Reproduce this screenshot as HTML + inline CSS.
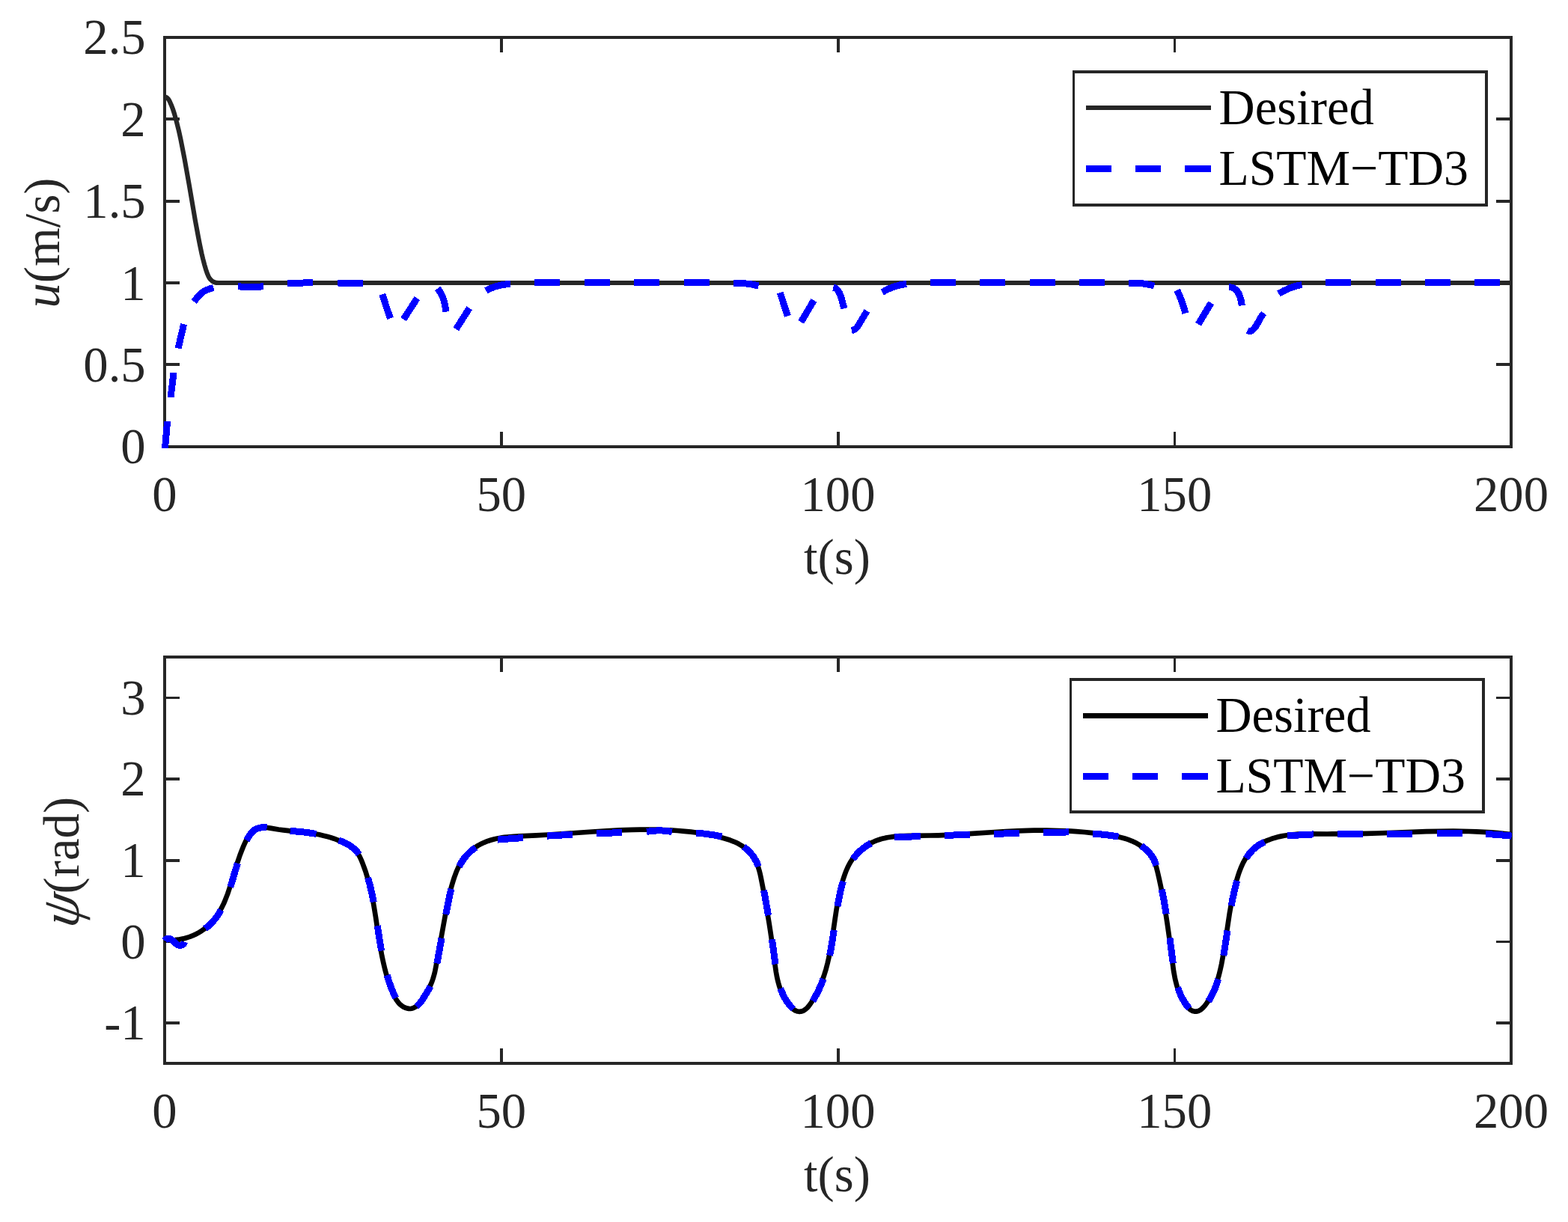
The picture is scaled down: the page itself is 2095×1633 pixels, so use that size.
<!DOCTYPE html>
<html lang="en">
<head>
<meta charset="utf-8">
<title>Speed and heading tracking: Desired vs LSTM-TD3</title>
<style>
html,body{margin:0;padding:0;background:#fff;}
body{width:2095px;height:1633px;overflow:hidden;}
svg{display:block;}
text{white-space:pre;}
</style>
</head>
<body>
<svg width="2095" height="1633" viewBox="0 0 2095 1633" role="img" aria-label="Surge speed u and heading angle psi versus time: desired reference and LSTM-TD3 tracking">
<rect width="2095" height="1633" fill="#fff"/>
<defs>
<clipPath id="c1"><rect x="215" y="46" width="1808" height="553"/></clipPath>
<clipPath id="c2"><rect x="215" y="874" width="1806" height="549"/></clipPath>
</defs>
<g id="ax1" fill="#262626" shape-rendering="crispEdges">
<rect x="218" y="48" width="1803" height="4"/>
<rect x="218" y="595" width="1803" height="4"/>
<rect x="218" y="48" width="4" height="551"/>
<rect x="2017" y="48" width="4" height="551"/>
<rect x="668" y="577" width="4" height="20"/>
<rect x="668" y="50" width="4" height="20"/>
<rect x="1118" y="577" width="4" height="20"/>
<rect x="1118" y="50" width="4" height="20"/>
<rect x="1568" y="577" width="3" height="20"/>
<rect x="1568" y="50" width="3" height="20"/>
<rect x="220" y="485" width="20" height="4"/>
<rect x="1999" y="485" width="20" height="4"/>
<rect x="220" y="376" width="20" height="4"/>
<rect x="1999" y="376" width="20" height="4"/>
<rect x="220" y="267" width="20" height="4"/>
<rect x="1999" y="267" width="20" height="4"/>
<rect x="220" y="157" width="20" height="4"/>
<rect x="1999" y="157" width="20" height="4"/>
</g>
<g id="ax2" fill="#262626" shape-rendering="crispEdges">
<rect x="218" y="876" width="1803" height="4"/>
<rect x="218" y="1419" width="1803" height="4"/>
<rect x="218" y="876" width="4" height="547"/>
<rect x="2017" y="876" width="4" height="547"/>
<rect x="668" y="1401" width="4" height="20"/>
<rect x="668" y="878" width="4" height="20"/>
<rect x="1118" y="1401" width="4" height="20"/>
<rect x="1118" y="878" width="4" height="20"/>
<rect x="1568" y="1401" width="3" height="20"/>
<rect x="1568" y="878" width="3" height="20"/>
<rect x="220" y="1365" width="20" height="4"/>
<rect x="1999" y="1365" width="20" height="4"/>
<rect x="220" y="1257" width="20" height="3"/>
<rect x="1999" y="1257" width="20" height="3"/>
<rect x="220" y="1148" width="20" height="4"/>
<rect x="1999" y="1148" width="20" height="4"/>
<rect x="220" y="1039" width="20" height="4"/>
<rect x="1999" y="1039" width="20" height="4"/>
<rect x="220" y="931" width="20" height="3"/>
<rect x="1999" y="931" width="20" height="3"/>
</g>
<g font-family='"Liberation Serif", "DejaVu Serif", serif' font-size="66.67px">
<text x="194.70" y="619.40" text-anchor="end" fill="#262626">0</text>
<text x="194.70" y="510.00" text-anchor="end" fill="#262626">0.5</text>
<text x="194.70" y="400.60" text-anchor="end" fill="#262626">1</text>
<text x="194.70" y="291.20" text-anchor="end" fill="#262626">1.5</text>
<text x="194.70" y="181.80" text-anchor="end" fill="#262626">2</text>
<text x="194.70" y="72.40" text-anchor="end" fill="#262626">2.5</text>
<text x="194.70" y="1389.10" text-anchor="end" fill="#262626">-1</text>
<text x="194.70" y="1280.50" text-anchor="end" fill="#262626">0</text>
<text x="194.70" y="1171.90" text-anchor="end" fill="#262626">1</text>
<text x="194.70" y="1063.30" text-anchor="end" fill="#262626">2</text>
<text x="194.70" y="954.70" text-anchor="end" fill="#262626">3</text>
<text x="220.00" y="682.80" text-anchor="middle" fill="#262626">0</text>
<text x="669.75" y="682.80" text-anchor="middle" fill="#262626">50</text>
<text x="1119.50" y="682.80" text-anchor="middle" fill="#262626">100</text>
<text x="1569.25" y="682.80" text-anchor="middle" fill="#262626">150</text>
<text x="2019.00" y="682.80" text-anchor="middle" fill="#262626">200</text>
<text x="220.00" y="1507.00" text-anchor="middle" fill="#262626">0</text>
<text x="669.75" y="1507.00" text-anchor="middle" fill="#262626">50</text>
<text x="1119.50" y="1507.00" text-anchor="middle" fill="#262626">100</text>
<text x="1569.25" y="1507.00" text-anchor="middle" fill="#262626">150</text>
<text x="2019.00" y="1507.00" text-anchor="middle" fill="#262626">200</text>
<text x="1118.50" y="766.80" text-anchor="middle" fill="#262626">t(s)</text>
<text x="1118.50" y="1591.90" text-anchor="middle" fill="#262626">t(s)</text>
<text transform="translate(79.00 324.50) rotate(-90)" text-anchor="middle" fill="#262626"><tspan font-style="italic">u</tspan>(m/s)</text>
<text transform="translate(104.90 1241.64) rotate(-90) skewX(-10)" font-style="italic" font-size="72px" fill="#262626">ψ</text>
<text transform="translate(104.90 1194.42) rotate(-90)" fill="#262626">(rad)</text>
</g>
<g clip-path="url(#c1)" fill="none" stroke-linejoin="round">
<path d="M220.0 129.4L221.5 129.8L222.8 130.4L224.0 131.4L225.0 132.6L225.8 133.8L226.5 135.1L228.8 140.2L230.8 145.3L233.1 152.5L236.0 163.1L238.6 173.4L240.0 179.7L241.5 186.6L244.5 201.8L246.6 212.7L252.6 246.2L260.8 294.2L265.0 316.9L267.0 327.2L269.6 339.5L271.1 345.8L273.3 354.1L275.0 359.9L276.9 365.6L278.3 368.8L279.0 370.2L279.7 371.4L280.6 372.7L281.6 373.8L282.7 374.8L283.9 375.8L285.2 376.6L286.1 377.0L287.5 377.5L289.0 377.9L292.0 378.0L2019.0 378.0" stroke="#262626" stroke-width="6.2"/>
<path d="M220.4 600.0L223.6 563.0M228.0 531.0L232.1 498.0M238.1 465.6L245.6 433.2M259.2 403.1L262.9 398.2L265.3 395.4L267.8 392.9L270.2 390.9L271.5 390.0L273.2 389.0L276.5 387.4L280.4 385.9L285.3 384.5M318.0 382.8L326.6 383.3L335.3 383.5L343.9 383.3L352.0 382.8M384.0 379.0L418.0 377.4M451.0 378.0L485.0 378.4M510.9 393.3L516.0 409.5L521.5 425.5M539.1 426.7L557.3 398.6M584.7 385.6L586.9 388.5L588.8 391.5L590.5 394.7L592.0 398.5L593.3 402.5L594.3 406.5L595.2 411.0L596.0 416.6M609.3 439.8L627.2 411.7M649.4 388.3L653.5 386.2L657.3 384.6L661.1 383.2L665.5 381.9L669.9 380.9L673.9 380.2L678.0 379.7L682.1 379.5M980.0 378.4L984.6 378.3L988.7 378.4L992.8 378.6L996.8 379.0L1000.9 379.5L1004.9 380.1L1009.0 381.0L1013.5 382.1M1042.3 391.1L1047.3 406.8L1052.5 422.4M1070.2 430.4L1087.4 401.4M1113.2 384.3L1114.3 384.5L1115.3 384.8L1116.2 385.2L1117.5 386.0L1118.6 387.0L1119.6 388.2L1120.4 389.5L1121.2 390.9L1122.1 392.8L1122.9 394.7L1124.2 398.5L1125.2 402.0L1127.9 412.4M1137.9 441.7L1139.0 441.5L1140.0 441.2L1140.9 440.8L1141.8 440.3L1143.4 439.1L1145.1 437.3L1146.0 436.0L1147.1 434.3L1150.3 429.0L1155.8 419.9L1158.4 415.5M1178.8 390.6L1182.8 388.3L1186.5 386.4L1190.7 384.6L1194.5 383.1L1198.9 381.8L1202.9 380.8L1207.0 380.1L1211.1 379.5M1508.0 378.4L1512.1 378.2L1516.2 378.2L1520.8 378.4L1524.9 378.7L1529.5 379.3L1533.5 380.0L1538.1 381.0L1542.1 382.1M1572.7 387.6L1576.0 395.2L1579.0 402.8L1581.6 410.7L1583.9 418.6M1601.0 433.4L1618.1 404.8M1642.0 384.0L1643.6 383.8L1645.1 384.0L1646.6 384.3L1648.0 385.0L1649.4 385.8L1651.0 387.1L1652.1 388.2L1653.4 389.8L1654.5 391.5L1655.5 393.4L1656.3 395.3L1657.0 397.2L1657.5 399.2L1658.2 401.7L1659.4 408.3M1666.9 441.6L1667.9 442.1L1668.9 442.4L1669.9 442.4L1670.9 442.3L1671.8 442.0L1673.1 441.2L1674.0 440.6L1675.1 439.5L1676.9 437.5L1678.6 435.0L1679.8 432.8L1683.4 426.1L1685.3 423.0L1687.0 420.5L1688.7 418.6M1708.4 392.6L1712.4 390.2L1715.9 388.3L1719.6 386.6L1723.3 385.0L1727.2 383.6L1731.0 382.4L1735.0 381.4L1739.5 380.5M714.0 377.5L748.0 377.5M780.5 377.5L814.5 377.5M847.0 377.5L881.0 377.5M913.5 377.5L947.5 377.5M1243.0 377.5L1277.0 377.5M1309.2 377.5L1343.2 377.5M1375.5 377.5L1409.5 377.5M1441.8 377.5L1475.8 377.5M1771.0 377.5L1805.0 377.5M1838.0 377.5L1872.0 377.5M1904.0 377.5L1938.0 377.5M1970.0 377.5L2004.0 377.5" stroke="#0000ff" stroke-width="9" shape-rendering="crispEdges"/>
</g>
<g clip-path="url(#c2)" fill="none" stroke-linejoin="round">
<path d="M219.8 1255.9L224.5 1256.3L229.1 1256.3L233.6 1256.1L238.2 1255.7L242.6 1254.9L245.1 1254.4L247.5 1253.7L251.8 1252.4L254.2 1251.6L256.5 1250.7L260.6 1248.9L262.8 1247.8L265.0 1246.6L267.1 1245.4L269.2 1244.0L272.8 1241.5L274.8 1240.0L276.7 1238.4L280.0 1235.5L283.1 1232.3L286.0 1229.0L288.1 1226.3L290.4 1223.1L292.2 1220.2L294.2 1216.7L296.1 1213.2L297.9 1209.6L299.6 1206.0L301.3 1201.8L304.1 1194.6L306.8 1186.5L309.1 1179.2L315.0 1159.5L316.9 1153.6L318.6 1148.6L320.5 1143.0L322.6 1137.5L324.7 1132.2L326.8 1127.4L328.4 1124.0L330.1 1120.7L331.7 1118.0L333.4 1115.4L334.9 1113.5L336.5 1111.7L338.2 1110.1L340.1 1108.7L341.6 1107.8L343.3 1107.1L345.0 1106.6L347.2 1106.1L349.1 1105.9L351.5 1105.8L353.9 1105.8L356.5 1106.0L361.1 1106.6L372.1 1108.5L378.8 1109.4L385.7 1110.2L403.7 1111.8L409.1 1112.4L414.0 1113.1L420.3 1114.2L426.3 1115.3L432.1 1116.7L437.5 1118.1L441.9 1119.3L446.3 1120.7L450.6 1122.3L454.4 1123.7L457.7 1125.1L460.9 1126.6L464.0 1128.3L466.5 1129.8L469.0 1131.5L471.3 1133.2L473.5 1135.2L475.2 1136.9L476.8 1138.7L478.2 1140.7L479.5 1142.8L480.9 1145.4L482.6 1149.1L484.9 1154.8L486.8 1160.0L488.8 1165.7L490.4 1171.0L492.1 1176.8L493.6 1182.6L495.2 1188.9L496.3 1194.2L497.5 1200.1L498.8 1206.5L499.9 1212.9L502.0 1225.7L505.5 1249.4L507.0 1258.8L508.6 1268.1L510.2 1277.0L512.3 1286.7L514.5 1296.0L515.7 1300.3L516.9 1304.6L518.2 1308.9L519.5 1312.8L521.2 1317.5L523.0 1322.3L524.9 1327.0L526.6 1330.7L528.0 1333.4L529.5 1336.0L531.2 1338.4L532.7 1340.3L533.7 1341.4L534.8 1342.4L536.7 1344.0L538.8 1345.4L541.1 1346.5L543.4 1347.3L544.9 1347.7L545.8 1347.8L547.2 1348.0L548.1 1348.0L549.9 1347.7L551.6 1347.3L553.3 1346.5L554.9 1345.6L556.4 1344.5L557.9 1343.2L559.3 1341.7L561.0 1339.7L562.6 1337.6L564.8 1334.5L567.1 1330.8L570.8 1324.7L573.2 1320.4L574.7 1317.5L576.1 1314.4L577.2 1311.8L578.3 1308.5L579.3 1305.2L580.4 1301.4L581.3 1297.4L582.3 1292.4L584.7 1279.4L595.1 1222.0L597.4 1210.2L599.3 1201.0L601.7 1190.7L602.9 1185.9L604.3 1181.0L605.6 1176.7L607.0 1172.4L608.4 1168.6L609.6 1165.3L610.8 1162.5L612.0 1159.8L613.4 1157.1L614.8 1154.5L616.3 1151.9L617.7 1149.8L619.4 1147.3L620.9 1145.4L622.5 1143.4L624.2 1141.6L626.0 1139.8L628.2 1137.7L630.1 1136.1L632.5 1134.2L634.5 1132.7L637.0 1131.0L639.2 1129.7L641.7 1128.3L644.4 1127.0L647.0 1125.8L649.8 1124.7L652.5 1123.7L655.3 1122.8L658.1 1122.0L660.9 1121.2L664.3 1120.5L667.2 1120.0L670.6 1119.4L674.1 1118.9L678.0 1118.5L686.1 1117.8L694.2 1117.3L716.5 1116.3L732.2 1115.5L750.3 1114.3L791.3 1111.5L810.7 1110.3L828.1 1109.4L844.0 1108.9L855.0 1108.7L865.4 1108.6L875.9 1108.7L885.9 1109.0L895.4 1109.4L904.9 1110.0L914.4 1110.8L923.0 1111.6L931.5 1112.7L939.4 1113.9L947.4 1115.3L954.7 1116.9L962.0 1118.7L969.1 1120.7L975.7 1122.8L980.8 1124.8L984.9 1126.6L987.1 1127.8L988.8 1128.8L990.5 1129.8L992.6 1131.3L994.6 1132.8L996.2 1134.0L998.1 1135.7L999.5 1137.1L1001.3 1138.9L1002.6 1140.4L1004.3 1142.3L1005.5 1143.9L1007.7 1147.3L1009.2 1149.8L1010.7 1152.9L1012.1 1156.1L1013.2 1159.4L1014.4 1163.2L1015.4 1167.1L1016.4 1171.5L1017.6 1177.5L1020.3 1191.3L1022.8 1205.0L1025.1 1218.8L1027.5 1233.0L1029.4 1245.3L1031.2 1257.6L1033.0 1271.0L1035.6 1290.0L1036.9 1299.0L1037.8 1304.0L1038.8 1308.9L1039.9 1313.2L1041.0 1317.1L1042.2 1320.8L1043.6 1324.6L1045.2 1328.2L1046.7 1331.4L1048.6 1334.9L1050.5 1337.9L1052.6 1340.8L1054.8 1343.7L1056.5 1345.6L1058.3 1347.5L1060.3 1349.0L1062.0 1350.1L1063.7 1350.9L1065.5 1351.5L1067.4 1351.8L1068.3 1351.8L1069.7 1351.7L1071.4 1351.4L1072.2 1351.1L1073.5 1350.6L1075.0 1349.7L1076.8 1348.3L1078.6 1346.7L1080.5 1344.5L1082.4 1342.0L1084.4 1339.0L1086.9 1335.0L1089.4 1330.5L1091.6 1326.4L1093.8 1321.9L1095.8 1317.3L1097.9 1312.2L1099.6 1307.5L1101.4 1302.3L1103.6 1295.2L1105.6 1287.5L1107.5 1279.3L1109.2 1270.5L1110.6 1262.6L1111.9 1254.3L1115.9 1226.5L1117.5 1216.1L1119.2 1206.2L1121.0 1197.3L1123.1 1188.0L1125.2 1179.7L1126.3 1175.8L1127.6 1171.9L1128.9 1168.1L1130.1 1164.8L1131.3 1162.0L1132.5 1159.3L1133.8 1156.6L1135.2 1154.0L1136.7 1151.4L1138.1 1149.3L1139.5 1147.2L1141.0 1145.3L1142.6 1143.3L1144.6 1141.1L1146.3 1139.3L1148.5 1137.2L1150.3 1135.5L1152.6 1133.6L1155.0 1131.9L1157.5 1130.2L1159.5 1128.9L1161.7 1127.6L1163.8 1126.5L1166.4 1125.2L1168.7 1124.2L1171.4 1123.2L1174.1 1122.2L1176.9 1121.3L1179.7 1120.6L1182.6 1119.9L1185.4 1119.3L1188.8 1118.7L1195.2 1117.9L1202.2 1117.2L1207.3 1117.0L1213.4 1116.8L1243.2 1116.5L1253.8 1116.3L1264.9 1115.9L1276.0 1115.3L1288.0 1114.7L1328.7 1112.0L1344.0 1111.1L1359.4 1110.4L1373.3 1109.9L1381.8 1109.7L1389.8 1109.6L1398.3 1109.7L1406.3 1109.8L1414.4 1110.0L1422.4 1110.3L1430.4 1110.7L1437.9 1111.2L1449.0 1112.0L1459.5 1113.1L1470.0 1114.3L1480.4 1115.8L1487.8 1117.0L1494.2 1118.3L1500.0 1119.7L1502.9 1120.5L1505.7 1121.4L1508.5 1122.4L1510.8 1123.3L1513.6 1124.4L1515.8 1125.5L1518.5 1126.8L1520.7 1128.1L1522.8 1129.4L1524.9 1130.8L1526.9 1132.3L1528.9 1133.8L1530.8 1135.4L1532.6 1137.2L1534.4 1139.0L1536.0 1140.8L1537.5 1142.8L1538.6 1144.4L1540.4 1147.4L1541.3 1149.1L1542.2 1150.9L1543.6 1154.6L1545.0 1158.9L1546.4 1164.3L1548.6 1173.7L1550.7 1183.5L1552.7 1193.3L1554.5 1203.2L1556.3 1213.4L1558.0 1223.8L1559.7 1235.1L1562.6 1255.3L1566.9 1288.7L1568.1 1297.7L1569.1 1303.1L1570.0 1308.0L1571.1 1312.4L1572.2 1316.8L1573.4 1320.6L1574.7 1324.3L1576.2 1328.0L1577.6 1331.2L1579.2 1334.4L1580.9 1337.4L1582.8 1340.5L1584.9 1343.4L1586.5 1345.4L1588.2 1347.3L1589.6 1348.7L1591.2 1349.8L1592.8 1350.7L1594.6 1351.3L1596.4 1351.6L1598.2 1351.6L1599.9 1351.4L1601.6 1350.8L1603.2 1350.0L1605.1 1348.7L1606.9 1347.1L1608.6 1345.3L1610.6 1342.9L1612.4 1340.3L1614.7 1336.8L1616.8 1333.1L1618.8 1329.5L1620.6 1325.8L1622.2 1322.1L1623.9 1317.9L1625.4 1313.7L1626.8 1309.4L1628.6 1303.2L1630.4 1295.9L1632.1 1288.2L1633.7 1279.4L1635.1 1271.6L1636.5 1262.7L1641.0 1232.6L1642.7 1221.2L1644.7 1209.8L1646.6 1200.0L1647.7 1194.6L1649.0 1189.2L1650.3 1183.8L1651.6 1178.9L1653.0 1174.0L1654.3 1169.7L1655.6 1165.8L1657.0 1162.1L1658.3 1158.8L1659.5 1156.1L1661.0 1152.9L1662.4 1150.3L1663.9 1147.8L1665.4 1145.3L1667.1 1142.9L1668.6 1141.0L1670.5 1138.7L1672.1 1136.9L1674.2 1134.9L1676.1 1133.2L1678.0 1131.7L1680.0 1130.2L1682.2 1128.8L1684.8 1127.2L1687.5 1125.8L1690.3 1124.4L1693.1 1123.2L1696.0 1122.1L1698.8 1121.0L1702.2 1119.9L1705.5 1119.0L1708.9 1118.1L1712.3 1117.4L1715.7 1116.7L1719.2 1116.2L1722.6 1115.7L1726.1 1115.3L1730.0 1115.0L1734.0 1114.7L1738.5 1114.5L1744.0 1114.4L1750.5 1114.3L1773.1 1114.5L1787.6 1114.4L1800.2 1114.3L1812.7 1114.1L1826.1 1113.8L1839.6 1113.5L1887.1 1111.8L1905.7 1111.2L1924.7 1110.8L1941.6 1110.7L1952.1 1110.8L1962.6 1111.0L1972.6 1111.3L1982.6 1111.8L1992.1 1112.4L2001.1 1113.2L2010.0 1114.1L2019.0 1115.1" stroke="#000" stroke-width="6.7"/>
<path d="M220.0 1256.9L220.4 1256.4L221.2 1255.6L222.0 1255.0L223.0 1254.6L223.9 1254.4L224.9 1254.3L226.0 1254.4L227.0 1254.6L228.4 1255.2L229.3 1255.8L230.2 1256.4L231.3 1257.4L234.2 1260.3L235.8 1261.6L237.1 1262.4L238.1 1262.8L239.1 1263.1L240.1 1263.3L241.7 1263.3L242.6 1263.1L243.6 1262.7L244.4 1262.2L245.2 1261.5L245.9 1260.6L246.5 1259.4L246.7 1258.8M274.2 1240.9L277.7 1238.1L280.6 1235.5L283.3 1232.7L285.9 1229.8L288.4 1226.7L291.0 1223.1L293.1 1219.7L295.3 1215.9M307.7 1185.5L310.0 1178.3L314.9 1161.8L317.5 1153.6M329.5 1123.0L331.0 1120.2L332.3 1118.0L333.7 1115.8L334.9 1114.2L336.5 1112.4L337.8 1111.0L339.2 1109.8L340.7 1108.7L342.2 1107.8L343.9 1107.1L345.6 1106.6L347.4 1106.2L349.2 1105.9L351.6 1105.8L354.0 1105.8L356.6 1106.0M387.8 1110.3L400.9 1111.5L407.7 1112.2L415.0 1113.2L422.4 1114.4M452.6 1122.8L457.4 1124.7L461.9 1126.9L465.9 1129.0L469.2 1131.2L472.3 1133.6L475.1 1136.2L476.4 1137.6L477.7 1139.1L479.6 1141.9M491.6 1172.9L493.7 1180.6L495.6 1188.4L497.5 1196.7L499.2 1205.5M504.3 1237.1L507.3 1256.8L509.6 1270.6M517.1 1303.2L519.8 1311.8L522.7 1319.9L524.4 1324.1L526.2 1328.4L527.4 1331.1L528.8 1333.8M556.3 1345.1L558.1 1343.5L559.9 1341.7L561.9 1339.3L563.8 1336.7L566.5 1332.6L570.9 1325.5L573.3 1321.3L575.1 1317.9M583.9 1287.4L590.0 1253.7M595.7 1222.0L597.8 1211.2L599.5 1202.9L601.2 1195.1L603.0 1187.8M613.5 1158.0L615.6 1154.0L618.0 1150.2L620.3 1146.9L622.8 1143.8L625.5 1140.9L628.8 1137.7L631.9 1135.1L635.6 1132.4M665.0 1122.1L699.0 1119.5M731.0 1117.1L765.1 1115.2M797.4 1113.5L831.4 1112.7M864.0 1111.5L868.5 1110.8L873.1 1110.3L877.1 1110.0L881.2 1109.9L884.8 1110.0L888.8 1110.3L893.4 1110.8L897.9 1111.5M929.9 1113.0L938.5 1113.8L947.6 1115.0L956.1 1116.3L964.6 1117.9M993.6 1131.6L997.1 1134.4L1000.1 1137.1L1003.2 1140.4L1005.8 1143.5L1008.0 1146.8L1010.0 1150.3L1011.7 1153.9L1013.3 1158.0M1020.6 1189.8L1023.6 1206.5L1026.5 1223.2M1031.4 1255.2L1033.5 1270.0L1035.9 1288.5M1042.8 1320.8L1044.4 1325.0L1046.2 1329.1L1048.2 1333.1L1050.3 1336.6L1052.8 1340.4L1055.4 1343.7L1057.8 1346.4L1060.1 1348.4M1085.9 1337.7L1088.0 1334.1L1090.0 1330.5L1091.9 1326.9L1093.7 1323.3L1095.4 1319.6L1097.0 1315.9L1098.5 1312.2L1100.1 1308.0M1108.6 1276.8L1109.9 1270.0L1111.3 1262.2L1112.6 1253.8L1114.2 1242.9M1119.0 1211.1L1120.7 1201.7L1122.4 1193.4L1124.3 1185.5L1126.4 1177.7M1139.5 1148.1L1141.9 1144.9L1144.5 1141.8L1147.3 1138.9L1150.2 1136.2L1153.2 1133.6L1156.4 1131.3L1160.1 1128.9L1163.6 1126.9M1195.3 1119.0L1230.1 1117.5M1261.9 1116.4L1296.1 1115.3M1328.0 1114.3L1362.0 1113.5M1394.0 1112.7L1428.4 1111.9M1460.2 1114.0L1468.8 1114.7L1477.4 1115.6L1486.0 1116.8L1494.5 1118.1M1524.7 1130.2L1528.3 1132.9L1531.8 1135.8L1535.0 1139.0L1537.5 1142.0L1539.8 1145.2L1541.7 1148.7L1543.3 1152.3L1544.8 1156.5M1552.3 1188.4L1555.4 1204.6L1558.2 1221.3M1562.9 1253.3L1567.3 1287.2M1573.7 1319.6L1575.1 1323.9L1576.8 1328.0L1578.4 1331.7L1580.3 1335.2L1582.6 1339.2L1584.9 1342.6L1587.1 1345.4L1589.1 1347.7M1614.5 1338.1L1616.4 1335.0L1618.4 1331.3L1620.1 1328.1L1621.8 1324.4L1623.4 1320.7L1624.8 1317.0L1626.3 1312.7L1627.7 1308.4M1634.8 1277.0L1637.0 1263.2L1640.0 1243.5M1645.2 1210.3L1647.0 1200.9L1648.8 1192.6L1650.6 1184.7L1652.7 1176.9M1665.0 1146.9L1667.4 1143.3L1669.8 1140.2L1672.7 1136.9L1675.5 1134.2L1678.6 1131.7L1681.9 1129.3L1685.4 1127.2L1689.5 1125.1M1720.2 1116.8L1755.0 1114.9M1787.0 1114.5L1820.9 1114.5M1853.0 1114.3L1886.9 1114.2M1920.0 1114.0L1954.0 1113.4M1985.1 1114.6L1993.8 1115.0L2002.4 1115.6L2011.1 1116.3L2019.7 1117.1" stroke="#0000ff" stroke-width="9" shape-rendering="crispEdges"/>
</g>
<g shape-rendering="crispEdges"><rect x="1433" y="94" width="555" height="182" fill="#fff"/>
<path d="M1433 94H1988V276H1433Z M1436 98V272H1984V98Z" fill="#262626" fill-rule="evenodd"/></g>
<path d="M1451.1 144.0H1618.0" stroke="#262626" stroke-width="6" fill="none" shape-rendering="crispEdges"/>
<path d="M1451.10 225.5H1485.10M1517.10 225.5H1551.10M1583.10 225.5H1618.00" stroke="#0000ff" stroke-width="9" fill="none" shape-rendering="crispEdges"/>
<g font-family='"Liberation Serif", "DejaVu Serif", serif' font-size="66.67px" fill="#000">
<text x="1628.5" y="165.9">Desired</text>
<text x="1628.5" y="247.3" textLength="333.5" lengthAdjust="spacingAndGlyphs">LSTM−TD3</text>
</g>
<g shape-rendering="crispEdges"><rect x="1429" y="906" width="555" height="181" fill="#fff"/>
<path d="M1429 906H1984V1087H1429Z M1432 910V1083H1980V910Z" fill="#262626" fill-rule="evenodd"/></g>
<path d="M1447.0 956.0H1613.9" stroke="#000" stroke-width="7" fill="none" shape-rendering="crispEdges"/>
<path d="M1447.00 1037.5H1481.00M1513.00 1037.5H1547.00M1579.00 1037.5H1613.90" stroke="#0000ff" stroke-width="9" fill="none" shape-rendering="crispEdges"/>
<g font-family='"Liberation Serif", "DejaVu Serif", serif' font-size="66.67px" fill="#000">
<text x="1624.4" y="977.9">Desired</text>
<text x="1624.4" y="1059.3" textLength="333.5" lengthAdjust="spacingAndGlyphs">LSTM−TD3</text>
</g>
</svg>
</body>
</html>
